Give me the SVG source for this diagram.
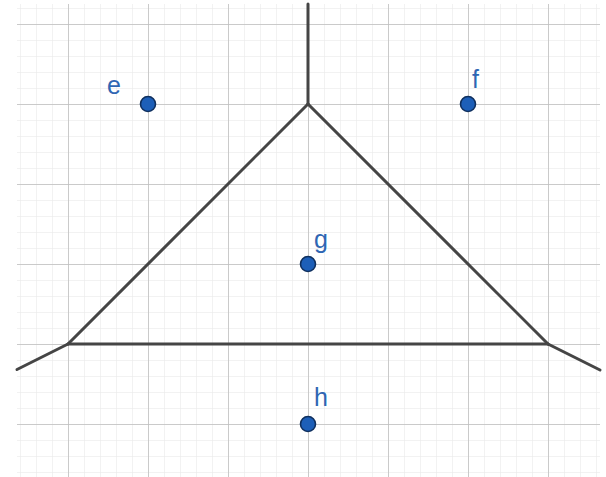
<svg xmlns="http://www.w3.org/2000/svg" width="606" height="477" viewBox="0 0 606 477">
<defs>
<style>
.minor{stroke:#e6e6e6;stroke-width:1;fill:none}
.major{stroke:#bdbdbd;stroke-width:1.5;fill:none}
.edge{stroke:#454545;stroke-width:3;fill:none;stroke-linecap:round;stroke-linejoin:round}
.pt{fill:#1d5fb8;stroke:#10305e;stroke-width:1.6}
.lbl{font-family:"Liberation Sans",Arial,sans-serif;font-size:25px;fill:#2f66b3}
</style>
<pattern id="minorGrid" x="4" y="8" width="16" height="16" patternUnits="userSpaceOnUse">
<path d="M0 0H16M0 0V16" class="minor"/>
</pattern>
<pattern id="majorGrid" x="68" y="24" width="80" height="80" patternUnits="userSpaceOnUse">
<path d="M0 0H80M0 0V80" class="major"/>
</pattern>
</defs>
<rect width="606" height="477" fill="#ffffff"/>
<g id="grid">
<rect x="17" y="4" width="583" height="473" fill="url(#minorGrid)"/>
<rect x="17" y="4" width="583" height="473" fill="url(#majorGrid)"/>
</g>
<g id="connectors">
<path class="edge" d="M308 4V104"/>
<path class="edge" d="M308 104L68 344"/>
<path class="edge" d="M308 104L548 344"/>
<path class="edge" d="M68 344H548"/>
<path class="edge" d="M68 344L17 369.5"/>
<path class="edge" d="M548 344L600 370"/>
</g>
<g id="node-e"><circle class="pt" cx="148" cy="104" r="7.5"/><text class="lbl" x="107" y="94">e</text></g>
<g id="node-f"><circle class="pt" cx="468" cy="104" r="7.5"/><text class="lbl" x="472" y="88">f</text></g>
<g id="node-g"><circle class="pt" cx="308" cy="264" r="7.5"/><text class="lbl" x="314" y="248">g</text></g>
<g id="node-h"><circle class="pt" cx="308" cy="424" r="7.5"/><text class="lbl" x="314" y="406">h</text></g>
</svg>
